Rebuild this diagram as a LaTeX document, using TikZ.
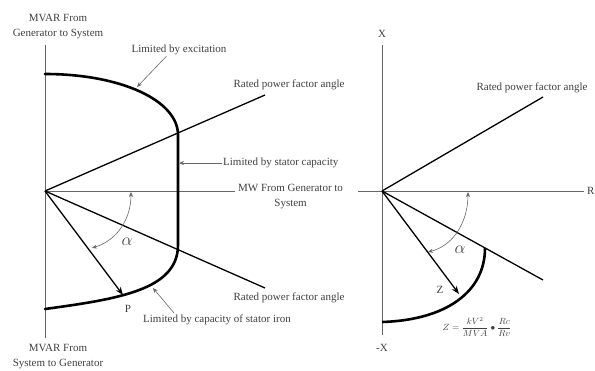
\documentclass[tikz,border=0pt]{standalone}
\usepackage{fontspec}
\setmainfont{Liberation Serif}
\usepackage{xcolor}
\usetikzlibrary{calc,arrows.meta}

\begin{document}
\begin{tikzpicture}[x=1pt, y=-1pt,
    lbl/.style={font=\fontsize{11}{15}\selectfont, text=black!75, inner sep=1pt},
    axis/.style={black!60, line width=0.8pt},
    limit/.style={line width=2.6pt},
    pf/.style={line width=1.3pt},
    vec/.style={line width=1.3pt, -{Stealth[length=8pt,width=6pt]}},
    pointer/.style={black!60, line width=0.6pt, -{Stealth[length=5pt,width=4pt]}}]

    \useasboundingbox (0,0) rectangle (595,370);

    % Capability curve: axes
    \coordinate (O1) at (45,191);
    \coordinate (Qtop) at (45,45);
    \coordinate (Qbot) at (45,338);
    \coordinate (Pend) at (235,191);
    \draw[axis] (Qtop) -- (Qbot);
    \draw[axis] (O1) -- (Pend);
    \node[lbl, align=center, anchor=south] (qgen) at (58,40) {MVAR From\\Generator to System};
    \node[lbl, align=center, anchor=north] (qsys) at (58,343) {MVAR From\\System to Generator};
    \node[lbl, align=center, anchor=north west] (mw) at (237,183) {MW From Generator to\\System};

    % Rated power factor lines
    \coordinate (PFup) at (265,95);
    \coordinate (PFdn) at (265,288);
    \draw[pf] (O1) -- (PFup);
    \draw[pf] (O1) -- (PFdn);
    \node[lbl] (pfa) at (289,85) {Rated power factor angle};
    \node[lbl] (pfb) at (289,298) {Rated power factor angle};

    % Limits
    \coordinate (E0) at (45,74);
    \coordinate (E1) at (178,135);
    \coordinate (S1) at (178,245);
    \coordinate (I1) at (45,309);
    \draw[limit, line cap=round] (E0) .. controls (120,74) and (178,100) .. (E1)
        -- (S1) .. controls (178,290) and (118,299) .. (I1);

    \node[lbl] (exc) at (179,50) {Limited by excitation};
    \coordinate (excTip) at (137,87);
    \draw[pointer] (exc.south west) ++(36,0) coordinate (excTail) -- (excTip);

    \node[lbl, anchor=west] (stat) at (222,163) {Limited by stator capacity};
    \coordinate (statTip) at (179,163);
    \draw[pointer] (stat.west) -- (statTip);

    \node[lbl, anchor=west] (iron) at (142,320) {Limited by capacity of stator iron};
    \coordinate (ironTip) at (153,288);
    \coordinate (ironTail) at (174,313);
    \draw[pointer] (ironTail) -- (ironTip);

    % Operating point
    \coordinate (P) at (123,295);
    \draw[vec] (O1) -- (P);
    \node[lbl] (plbl) at (128,309) {P};

    % Angle
    \coordinate (A1) at (92,248);
    \coordinate (A2) at (131,192);
    \draw[pointer, {Stealth[length=5pt,width=4pt]}-{Stealth[length=5pt,width=4pt]}] (A1) .. controls (118,240) and (131,218) .. (A2);
    \node[font=\fontsize{17}{17}\selectfont, text=black!75] (alpha1) at (127,242) {$\alpha$};

    % Impedance plane: axes
    \coordinate (O2) at (382,191);
    \coordinate (Xtop) at (382,45);
    \coordinate (Xbot) at (382,335);
    \coordinate (Rleft) at (358,191);
    \coordinate (Rend) at (584,191);
    \draw[axis] (Xtop) -- (Xbot);
    \draw[axis] (Rleft) -- (Rend);
    \node[lbl] (xp) at (382,34) {X};
    \node[lbl] (xn) at (382,348) {-X};
    \node[lbl, anchor=west, inner sep=0pt] (rl) at (587,191) {R};

    % Rated power factor lines
    \coordinate (PFup2) at (543,97);
    \coordinate (PFdn2) at (543,280);
    \draw[pf] (O2) -- (PFup2);
    \draw[pf] (O2) -- (PFdn2);
    \node[lbl] (pfc) at (532,88) {Rated power factor angle};

    % Impedance limit
    \coordinate (L0) at (485,248);
    \coordinate (L1) at (382,322);
    \draw[limit] (L0) .. controls (485,292) and (446,320) .. (L1);

    \coordinate (Z) at (459,294);
    \draw[vec] (O2) -- (Z);
    \node[lbl] (zlbl) at (440,290) {Z};

    \coordinate (B1) at (428,252);
    \coordinate (B2) at (468,192);
    \draw[pointer, {Stealth[length=5pt,width=4pt]}-{Stealth[length=5pt,width=4pt]}] (B1) .. controls (455,245) and (468,220) .. (B2);
    \node[font=\fontsize{17}{17}\selectfont, text=black!75] (alpha2) at (460,250) {$\alpha$};

    \node[text=black!75, font=\fontsize{9}{9}\selectfont] (zeq) at (477,327)
        {$Z=\displaystyle\frac{kV^2}{MVA}\bullet\frac{Rc}{Rv}$};
\end{tikzpicture}
\end{document}
